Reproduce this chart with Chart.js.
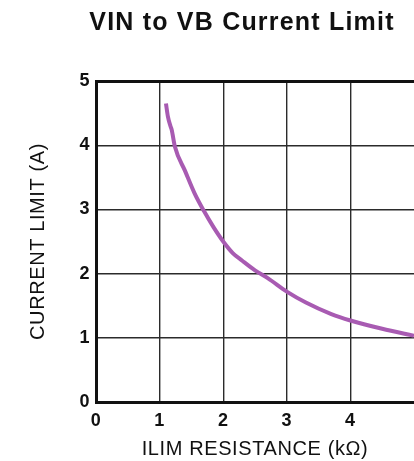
<!DOCTYPE html>
<html>
<head>
<meta charset="utf-8">
<script src="https://cdn.jsdelivr.net/npm/chart.js@4/dist/chart.umd.min.js"></script>
<style>
  html, body { margin: 0; padding: 0; background: #fff; }
  canvas { display: block; }
</style>
</head>
<body>
<canvas id="chart" width="414" height="461"></canvas>
<script>
// VIN to VB current limit vs ILIM resistance
const chartTitle = 'VIN to VB Current Limit';
const xTitle = 'ILIM RESISTANCE (kΩ)';
const yTitle = 'CURRENT LIMIT (A)';

// values
const resistanceK = [1.10, 1.13, 1.17, 1.19, 1.24, 1.40, 1.55, 1.70, 1.85, 2.00, 2.15, 2.30, 2.50, 2.70, 3.00, 3.30, 3.70, 4.00, 4.50, 5.00];
const currentA    = [4.65, 4.45, 4.30, 4.24, 3.98, 3.60, 3.25, 2.97, 2.72, 2.50, 2.32, 2.20, 2.05, 1.93, 1.72, 1.55, 1.37, 1.27, 1.14, 1.03];

const xTicks = [0, 1, 2, 3, 4];   // 5 sits on the cropped edge, no label
const yTicks = [0, 1, 2, 3, 4, 5];

const points = resistanceK.map((x, i) => ({ x: x, y: currentA[i] }));

const FONT = '"Liberation Sans", Arial, sans-serif';

// title drawn by hand so it can sit off-centre like the original
const titlePlugin = {
    id: 'manualTitle',
    beforeDraw(chart) {
        chart.ctx.letterSpacing = '0.6px';
    },
    afterDraw(chart) {
        const ctx = chart.ctx;
        ctx.save();
        ctx.letterSpacing = '1.2px';
        ctx.font = 'bold 25px ' + FONT;
        ctx.fillStyle = '#111';
        ctx.textAlign = 'center';
        ctx.textBaseline = 'middle';
        ctx.fillText(chartTitle, 242, 23);
        ctx.restore();
    }
};

new Chart(document.getElementById('chart').getContext('2d'), {
    type: 'line',
    data: {
        datasets: [{
            data: points,
            borderColor: '#a85bb2',
            borderWidth: 4,
            pointRadius: 0,
            fill: false,
            tension: 0.3,
            cubicInterpolationMode: 'monotone'
        }]
    },
    options: {
        responsive: false,
        animation: false,
        layout: { padding: { top: 81, left: 0, right: 0, bottom: 0 } },
        plugins: {
            legend: { display: false },
            tooltip: { enabled: false },
            title: { display: false }
        },
        scales: {
            x: {
                type: 'linear',
                min: 0,
                max: 5,
                afterFit(scale) {
                    scale.height = 59;
                    scale.paddingLeft = 0;
                    scale.paddingRight = 0;
                },
                afterBuildTicks(scale) {
                    scale.ticks = [0, 1, 2, 3, 4, 5].map(v => ({ value: v }));
                },
                ticks: {
                    padding: 8,
                    color: '#111',
                    font: { family: FONT, size: 18, weight: 'bold' },
                    callback: v => (xTicks.includes(v) ? String(v) : '')
                },
                grid: {
                    drawTicks: false,
                    color: ctx => (ctx.tick && ctx.tick.value === 5 ? 'rgba(0,0,0,0)' : '#2b2b2b'),
                    lineWidth: 1.4
                },
                border: { display: true, color: '#111', width: 3 },
                title: {
                    display: true,
                    text: xTitle,
                    color: '#111',
                    padding: { top: 0, bottom: 0 },
                    font: { family: FONT, size: 20 }
                }
            },
            y: {
                type: 'linear',
                min: 0,
                max: 5,
                afterFit(scale) { scale.width = 96; },
                afterBuildTicks(scale) {
                    scale.ticks = yTicks.map(v => ({ value: v }));
                },
                ticks: {
                    padding: 6,
                    color: '#111',
                    font: { family: FONT, size: 18, weight: 'bold' }
                },
                grid: {
                    drawTicks: false,
                    color: ctx => (ctx.tick && ctx.tick.value === 5 ? '#111' : '#2b2b2b'),
                    lineWidth: ctx => (ctx.tick && ctx.tick.value === 5 ? 3 : 1.4)
                },
                border: { display: true, color: '#111', width: 3 },
                title: {
                    display: true,
                    text: yTitle,
                    color: '#111',
                    padding: { top: 26, bottom: 0 },
                    font: { family: FONT, size: 20 }
                }
            }
        }
    },
    plugins: [titlePlugin]
});
</script>
</body>
</html>
